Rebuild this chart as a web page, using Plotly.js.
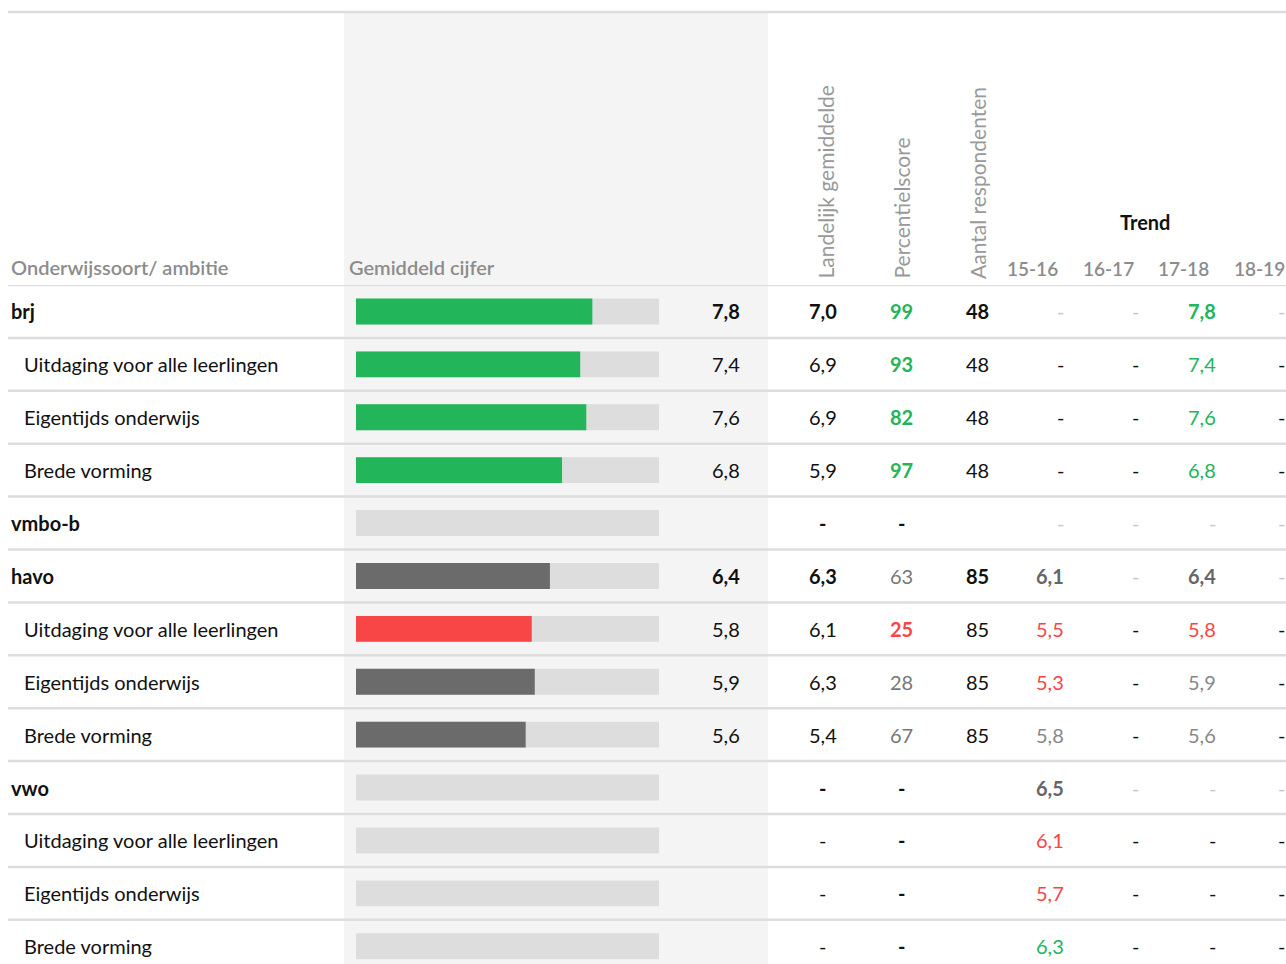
<!DOCTYPE html>
<html>
<head>
<meta charset="utf-8">
<script src="https://cdn.plot.ly/plotly-3.0.1.min.js"></script>
<style>html,body{margin:0;padding:0;background:#fff;}#chart{width:1286px;height:964px;}</style>
</head>
<body>
<div id="chart"></div>
<script>
// ---- data ----
const rowLabels = ["brj","Uitdaging voor alle leerlingen","Eigentijds onderwijs","Brede vorming","vmbo-b","havo","Uitdaging voor alle leerlingen","Eigentijds onderwijs","Brede vorming","vwo","Uitdaging voor alle leerlingen","Eigentijds onderwijs","Brede vorming"];
const isGroup = [true,false,false,false,true,true,false,false,false,true,false,false,false];
const scores = [7.8,7.4,7.6,6.8,null,6.4,5.8,5.9,5.6,null,null,null,null];
const landelijk = ["7,0","6,9","6,9","5,9","-","6,3","6,1","6,3","5,4","-","-","-","-"];
const percentiel = [99,93,82,97,null,63,25,28,67,null,null,null,null];
const respondenten = ["48","48","48","48","","85","85","85","85","","","",""];
const trendYears = ["15-16","16-17","17-18","18-19"];
const trend1516 = [null,null,null,null,null,6.1,5.5,5.3,5.8,6.5,6.1,5.7,6.3];
const trend1617 = [null,null,null,null,null,null,null,null,null,null,null,null,null];
const trend1718 = [7.8,7.4,7.6,6.8,null,6.4,5.8,5.9,5.6,null,null,null,null];
const trend1819 = [null,null,null,null,null,null,null,null,null,null,null,null,null];
// trend colour status: g = green, r = red, n = grey, k = black
const trend1516Status = ["k","k","k","k","k","n","r","r","n","n","r","r","g"];
const trend1718Status = ["g","g","g","g","k","n","r","n","n","k","k","k","k"];
const headerLeft = "Onderwijssoort/ ambitie";
const headerBar = "Gemiddeld cijfer";
const headerVertical = ["Landelijk gemiddelde","Percentielscore","Aantal respondenten"];
const headerTrend = "Trend";

// ---- styling ----
const W = 1286, H = 964;
const FONT = "Lato, 'Open Sans', sans-serif";
const FS = 20;
const GREEN = "#22B55A", RED = "#F84646", GREYBAR = "#6B6B6B";
const fmt = v => v == null ? "-" : v.toFixed(1).replace(".", ",");
const px = x => x / W;
const py = y => 1 - y / H;
const rowH = 52.9, headY = 285;
const n = rowLabels.length;
const yIdx = rowLabels.map((_, i) => i);

function pctStatus(p){ if (p == null) return "k"; if (p >= 75) return "g"; if (p <= 25) return "r"; return "n"; }
const barColors = percentiel.map(p => { const s = pctStatus(p); return s === "g" ? GREEN : s === "r" ? RED : GREYBAR; });

const traces = [
  { type: "bar", orientation: "h", y: yIdx, x: yIdx.map(() => 10), marker: { color: "#DDDDDD" }, width: 0.49, hoverinfo: "skip", showlegend: false },
  { type: "bar", orientation: "h", y: yIdx, x: scores, marker: { color: barColors }, width: 0.49, hoverinfo: "skip", showlegend: false }
];

const ann = [];
function A(text, xPix, row, opts) {
  ann.push(Object.assign({ text: text, xref: "paper", x: px(xPix), yref: "y", y: row, showarrow: false,
    xanchor: "center", yanchor: "middle", font: { family: FONT, size: FS, color: "#111" } }, opts || {}));
}
const colorOf = s => s === "g" ? GREEN : s === "r" ? RED : s === "n" ? "#777" : "#111";

for (let i = 0; i < n; i++) {
  const g = isGroup[i];
  const w = g ? 700 : 400;
  A(rowLabels[i], g ? 9 : 22, i, { xanchor: "left", font: { family: FONT, size: FS, color: "#111", weight: w } });
  if (scores[i] != null) A(fmt(scores[i]), 742, i, { xanchor: "right", font: { family: FONT, size: FS, color: "#111", weight: w } });
  A(landelijk[i], 823, i, { font: { family: FONT, size: FS, color: "#111", weight: w } });
  const ps = pctStatus(percentiel[i]);
  A(percentiel[i] == null ? "-" : String(percentiel[i]), 901, i, { font: { family: FONT, size: FS, color: percentiel[i] == null ? "#111" : colorOf(ps), weight: (ps === "g" || ps === "r" || percentiel[i] == null) ? 700 : 400 } });
  if (respondenten[i]) A(respondenten[i], 977, i, { font: { family: FONT, size: FS, color: "#111", weight: w } });
  const lightDash = g; // group rows use light grey dashes
  const trendCols = [[trend1516, trend1516Status, 1066], [trend1617, null, 1141], [trend1718, trend1718Status, 1218], [trend1819, null, 1287]];
  trendCols.forEach(([arr, st, xr]) => {
    const v = arr[i];
    let col, txt;
    if (v == null) { txt = "-"; col = lightDash ? "#C8C8C8" : "#111"; }
    else { txt = fmt(v); col = colorOf(st[i]); if (st[i] === "n") col = g ? "#666" : "#888"; }
    A(txt, xr, i, { xanchor: "right", font: { family: FONT, size: FS, color: col, weight: (v != null && g) ? 700 : 400 } });
  });
}

// headers
const paperAnn = (text, x, y, opts) => ann.push(Object.assign({ text: text, xref: "paper", yref: "paper", x: px(x), y: py(y), showarrow: false, xanchor: "left", yanchor: "middle", font: { family: FONT, size: FS, color: "#8C8C8C", weight: 600 } }, opts || {}));
paperAnn(headerLeft, 9, 267);
paperAnn(headerBar, 347, 267);
[825, 901, 977].forEach((x, k) => paperAnn(headerVertical[k], x, 281, { xanchor: "center", yanchor: "bottom", textangle: -90, font: { family: FONT, size: 21, color: "#999999", weight: 400 } }));
paperAnn(headerTrend, 1145, 222, { xanchor: "center", font: { family: FONT, size: 20, color: "#111", weight: 700 } });
[1032, 1108, 1183, 1259].forEach((x, k) => paperAnn(trendYears[k], x, 268, { xanchor: "center", font: { family: FONT, size: 19, color: "#8C8C8C", weight: 600 } }));

// shapes
const shapes = [
  { type: "rect", xref: "paper", yref: "paper", x0: px(344), x1: px(768), y0: 0, y1: py(13), fillcolor: "#F4F4F4", line: { width: 0 }, layer: "below" },
  { type: "line", xref: "paper", yref: "paper", x0: px(8), x1: 1, y0: py(12), y1: py(12), line: { color: "#DDDDDD", width: 2.5 }, layer: "below" }
];
for (let i = -1; i < n - 1; i++) {
  shapes.push({ type: "line", xref: "paper", yref: "y", x0: px(8), x1: 1, y0: i + 0.5, y1: i + 0.5, line: { color: "#DDDDDD", width: 2.5 }, layer: "below" });
}

const yBottom = -0.5 + (H - headY) / rowH;
const layout = {
  width: W, height: H, margin: { l: 0, r: 0, t: 0, b: 0 },
  paper_bgcolor: "#FFFFFF", plot_bgcolor: "rgba(0,0,0,0)",
  barmode: "overlay", showlegend: false,
  xaxis: { domain: [px(356), px(659)], range: [0, 10], visible: false, fixedrange: true },
  yaxis: { domain: [0, py(headY)], range: [yBottom, -0.5], visible: false, fixedrange: true },
  annotations: ann, shapes: shapes,
  font: { family: FONT }
};
Plotly.newPlot("chart", traces, layout, { staticPlot: true, displayModeBar: false });
</script>
</body>
</html>
